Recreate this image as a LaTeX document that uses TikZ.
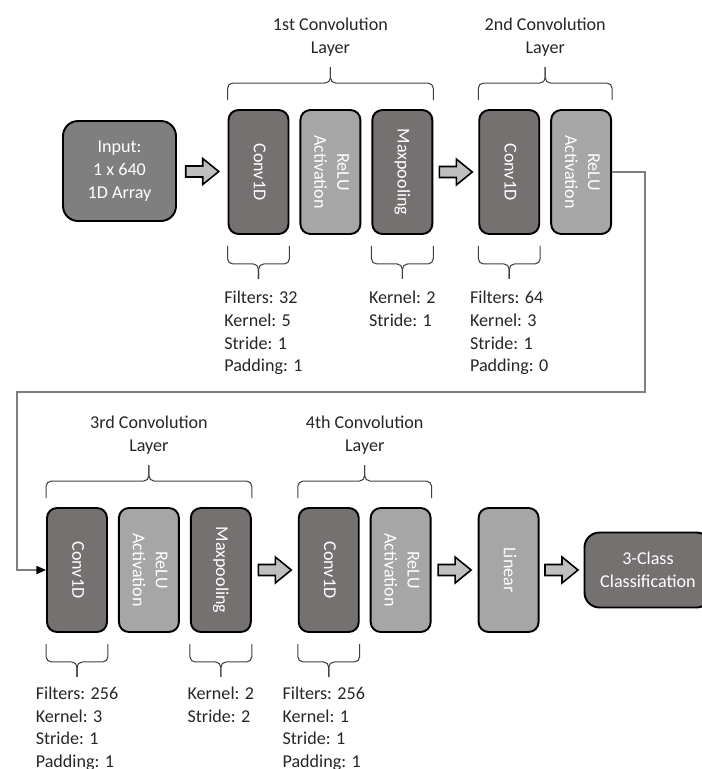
\documentclass[tikz,border=0pt]{standalone}
\usepackage{fontspec}
\usepackage{graphicx}
\setmainfont{Carlito}
\usetikzlibrary{arrows.meta, positioning, calc}
\definecolor{boxdark}{RGB}{118,113,113}
\definecolor{boxinput}{RGB}{127,127,127}
\definecolor{boxlight}{RGB}{166,166,166}
\definecolor{arrowfill}{RGB}{191,191,191}
\definecolor{linkgray}{RGB}{127,127,127}
\definecolor{bracegray}{RGB}{64,64,64}
\definecolor{labelgray}{RGB}{38,38,38}

\tikzset{
  layerbox/.style={draw=black, line width=1.1pt, rounded corners=0.2cm, minimum width=1.2cm, minimum height=2.48cm, inner sep=0pt, text=white},
  convbox/.style={layerbox, fill=boxdark},
  relubox/.style={layerbox, fill=boxlight},
  inputbox/.style={draw=black, line width=1.1pt, rounded corners=0.3cm, fill=boxinput, minimum width=2.26cm, minimum height=2cm, align=center, text=white},
  classbox/.style={draw=black, line width=1.1pt, rounded corners=0.3cm, fill=boxdark, minimum width=2.54cm, minimum height=1.5cm, align=center, text=white},
  fatarrow/.style={draw=black, line width=0.9pt, fill=arrowfill, line join=miter},
  brace/.style={draw=bracegray, line width=0.6pt, rounded corners=3pt},
  link/.style={draw=linkgray, line width=0.8pt, -{Triangle[color=black, length=5.5pt, width=4.6pt]}},
  params/.style={align=left, inner sep=0pt, text=labelgray, font=\fontsize{10.3pt}{12.9pt}\selectfont},
  layertitle/.style={align=center, inner sep=0pt, text=labelgray}
}

\newcommand{\vtext}[1]{\rotatebox{-90}{\begin{tabular}{@{}c@{}}#1\end{tabular}}}
% wide block arrow half way between two boxes
\newcommand{\fatarrow}[2]{%
  \draw[fatarrow] ($(#1.east)!0.5!(#2.west)$) ++(-16.5,5.5) -- ++(17,0) -- ++(0,7.5) -- ++(16,-13) -- ++(-16,-13) -- ++(0,7.5) -- ++(-17,0) -- cycle;}
% brace over a layer, #3 names its peak
\newcommand{\topbrace}[3]{%
  \coordinate (#3) at ($(#1.north west)!0.5!(#2.north east)+(0,42)$);
  \draw[brace] ($(#1.north west)+(0,9)$) |- ($(#3)+(0,-16)$) -- (#3);
  \draw[brace] ($(#2.north east)+(0,9)$) |- ($(#3)+(0,-16)$) -- (#3);}
% brace under one box, #2 names its stem end
\newcommand{\lowbrace}[2]{%
  \coordinate (#2) at ($(#1.south)+(0,-44)$);
  \draw[brace] ($(#1.south west)+(0,-11)$) |- ($(#2)+(0,15)$) -- (#2);
  \draw[brace] ($(#1.south east)+(0,-11)$) |- ($(#2)+(0,15)$) -- (#2);}

\begin{document}
\begin{tikzpicture}[x=0.02cm, y=0.02cm, font=\fontsize{10.3pt}{13.1pt}\selectfont]
  \useasboundingbox (0,0) rectangle (702,-769);

  % first row
  \node[inputbox] (input) at (119.5,-171) {Input:\\1 x 640\\1D Array};
  \node[convbox] (c1) at (258.5,-172) {\vtext{Conv1D}};
  \node[relubox, right=0.2cm of c1] (r1) {\vtext{ReLU\\Activation}};
  \node[convbox, right=0.2cm of r1] (m1) {\vtext{Maxpooling}};
  \node[convbox, right=0.9cm of m1] (c2) {\vtext{Conv1D}};
  \node[relubox, right=0.2cm of c2] (r2) {\vtext{ReLU\\Activation}};

  % second row
  \node[convbox] (c3) at (77,-570) {\vtext{Conv1D}};
  \node[relubox, right=0.2cm of c3] (r3) {\vtext{ReLU\\Activation}};
  \node[convbox, right=0.2cm of r3] (m3) {\vtext{Maxpooling}};
  \node[convbox, right=0.92cm of m3] (c4) {\vtext{Conv1D}};
  \node[relubox, right=0.2cm of c4] (r4) {\vtext{ReLU\\Activation}};
  \node[relubox, right=0.92cm of r4] (lin) {\vtext{Linear}};
  \node[classbox, right=0.88cm of lin] (cls) {3-Class\\Classification};

  \fatarrow{input}{c1}
  \fatarrow{m1}{c2}
  \fatarrow{m3}{c4}
  \fatarrow{r4}{lin}
  \fatarrow{lin}{cls}

  % wrap round to the second row
  \coordinate (wrap) at (17,-392);
  \draw[link] (r2.east) -- ++(33,0) |- (wrap) |- (c3.west);

  % layer braces and titles
  \topbrace{c1}{m1}{t1}
  \topbrace{c2}{r2}{t2}
  \topbrace{c3}{m3}{t3}
  \topbrace{c4}{r4}{t4}
  \node[layertitle, above=0.2cm of t1] {1st Convolution\\Layer};
  \node[layertitle, above=0.2cm of t2] {2nd Convolution\\Layer};
  \node[layertitle, above=0.2cm of t3] {3rd Convolution\\Layer};
  \node[layertitle, above=0.2cm of t4] {4th Convolution\\Layer};

  % parameter braces
  \lowbrace{c1}{s1}
  \lowbrace{m1}{s2}
  \lowbrace{c2}{s3}
  \lowbrace{c3}{s4}
  \lowbrace{m3}{s5}
  \lowbrace{c4}{s6}
  \node[params, below=0.24cm of s1, xshift=0.1cm] {Filters: 32\\Kernel: 5\\Stride: 1\\Padding: 1};
  \node[params, below=0.24cm of s2] {Kernel: 2\\Stride: 1};
  \node[params, below=0.24cm of s3] {Filters: 64\\Kernel: 3\\Stride: 1\\Padding: 0};
  \node[params, below=0.19cm of s4] {Filters: 256\\Kernel: 3\\Stride: 1\\Padding: 1};
  \node[params, below=0.19cm of s5] {Kernel: 2\\Stride: 2};
  \node[params, below=0.19cm of s6, xshift=-0.1cm] {Filters: 256\\Kernel: 1\\Stride: 1\\Padding: 1};
\end{tikzpicture}
\end{document}
